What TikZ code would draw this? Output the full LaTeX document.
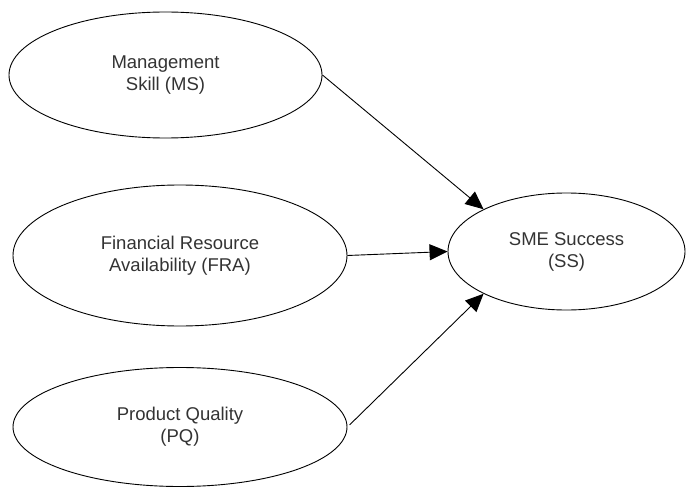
\documentclass[tikz,border=0pt]{standalone}
\usepackage{fontspec}
\setmainfont{Liberation Sans}
\usetikzlibrary{shapes.geometric,arrows.meta}
\begin{document}
\begin{tikzpicture}[x=1pt,y=-1pt,
  construct/.style={ellipse, draw=black, line width=0.9pt, inner sep=0pt,
    align=center, text=black!80, font=\fontsize{18.5}{22}\selectfont},
  path/.style={draw=black, line width=0.9pt,
    -{Triangle[length=18pt,width=16pt]}}]
  \useasboundingbox (0,0) rectangle (686,487);

  % latent constructs
  \node[construct, minimum width=313pt, minimum height=126pt] (ms)  at (165.5,75)  {Management\\Skill (MS)};
  \node[construct, minimum width=334pt, minimum height=141pt] (fra) at (180,255.5) {Financial Resource\\Availability (FRA)};
  \node[construct, minimum width=334pt, minimum height=119pt] (pq)  at (180,427)   {Product Quality\\(PQ)};
  \node[construct, minimum width=237pt, minimum height=117pt] (ss)  at (566.5,251.5) {SME Success\\(SS)};

  % hypothesised paths
  \draw[path] (ms.east) -- (ss.153);
  \draw[path] (fra.east) -- (ss.west);
  \draw[path, shorten <=3pt] (pq.east) -- (ss.207);
\end{tikzpicture}
\end{document}
